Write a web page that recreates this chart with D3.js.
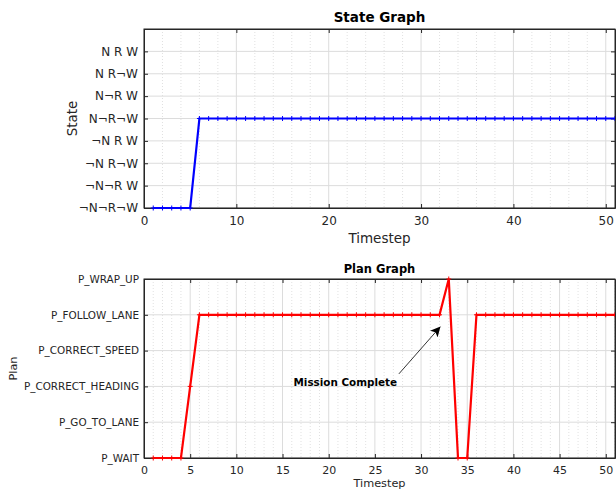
<!DOCTYPE html>
<html lang="en">
	<head>
		<meta charset="UTF-8">
		<title>State and Plan Graph</title>
		<script src="https://cdnjs.cloudflare.com/ajax/libs/d3/7.8.5/d3.min.js"></script>
		<style>
			body { margin: 0; background: #fff; }
			svg { display: block; font-family: "DejaVu Sans", sans-serif; }
		</style>
		<script>
var timesteps = [1, 2, 3, 4, 5, 6, 7, 8, 9, 10, 11, 12, 13, 14, 15, 16, 17, 18, 19, 20,
	21, 22, 23, 24, 25, 26, 27, 28, 29, 30, 31, 32, 33, 34, 35, 36, 37, 38, 39, 40,
	41, 42, 43, 44, 45, 46, 47, 48, 49, 50, 51];

// index 0 is the bottom of the axis
var stateLabels = ["¬N¬R¬W", "¬N¬R W", "¬N R¬W", "¬N R W", "N¬R¬W", "N¬R W", "N R¬W", "N R W"];
var stateValues = [0, 0, 0, 0, 0, 4, 4, 4, 4, 4, 4, 4, 4, 4, 4, 4, 4, 4, 4, 4,
	4, 4, 4, 4, 4, 4, 4, 4, 4, 4, 4, 4, 4, 4, 4, 4, 4, 4, 4, 4,
	4, 4, 4, 4, 4, 4, 4, 4, 4, 4, 4];

var planLabels = ["P_WAIT", "P_GO_TO_LANE", "P_CORRECT_HEADING", "P_CORRECT_SPEED", "P_FOLLOW_LANE", "P_WRAP_UP"];
var planValues = [0, 0, 0, 0, 2, 4, 4, 4, 4, 4, 4, 4, 4, 4, 4, 4, 4, 4, 4, 4,
	4, 4, 4, 4, 4, 4, 4, 4, 4, 4, 4, 4, 5, 0, 0, 4, 4, 4, 4, 4,
	4, 4, 4, 4, 4, 4, 4, 4, 4, 4, 4];

var stateXTicks = [0, 10, 20, 30, 40, 50];
var planXTicks = [0, 5, 10, 15, 20, 25, 30, 35, 40, 45, 50];

var annotation = { text: "Mission Complete", tx: 21.8, ty: 2.0, x0: 27.6, y0: 2.35, x1: 32.1, y1: 3.67 };

function drawPanel(svg, o) {
	var data = timesteps.map((t, i) => ({ t: t, v: o.values[i] }));

	var scX = d3.scaleLinear().domain([0, 51]).range([o.left, o.right]);
	var scY = d3.scaleLinear().domain([0, o.labels.length - (o.topPad ? 0 : 1)]).range([o.bottom, o.top]);

	var g = svg.append("g");

	// grid
	g.append("g").selectAll("line")
		.data(o.minor)
		.enter()
		.append("line")
		.attr("x1", d => scX(d)).attr("x2", d => scX(d))
		.attr("y1", o.top).attr("y2", o.bottom)
		.attr("stroke", "#d4d4d4")
		.attr("stroke-width", 0.7)
		.attr("stroke-dasharray", "1,2");

	g.append("g").selectAll("line")
		.data(o.xTicks)
		.enter()
		.append("line")
		.attr("x1", d => scX(d)).attr("x2", d => scX(d))
		.attr("y1", o.top).attr("y2", o.bottom)
		.attr("stroke", "#dcdcdc")
		.attr("stroke-width", 1);

	g.append("g").selectAll("line")
		.data(o.labels.map((l, i) => i))
		.enter()
		.append("line")
		.attr("x1", o.left).attr("x2", o.right)
		.attr("y1", d => scY(d)).attr("y2", d => scY(d))
		.attr("stroke", "#dcdcdc")
		.attr("stroke-width", 1);

	// axes (ticks inward, mirrored on top and right)
	var tickLen = 4;
	var xAxis = d3.axisBottom(scX).tickValues(o.xTicks).tickSizeInner(-tickLen).tickSizeOuter(0).tickPadding(8);
	var yAxis = d3.axisLeft(scY).tickValues(o.labels.map((l, i) => i)).tickFormat(i => o.labels[i])
		.tickSizeInner(-tickLen).tickSizeOuter(0).tickPadding(o.yPad);

	var gx = g.append("g").attr("transform", `translate(0,${o.bottom})`).call(xAxis);
	var gy = g.append("g").attr("transform", `translate(${o.left},0)`).call(yAxis);
	g.append("g").attr("transform", `translate(0,${o.top})`)
		.call(d3.axisTop(scX).tickValues(o.xTicks).tickSizeInner(-tickLen).tickSizeOuter(0).tickFormat(""));
	g.append("g").attr("transform", `translate(${o.right},0)`)
		.call(d3.axisRight(scY).tickValues(o.labels.map((l, i) => i)).tickSizeInner(-tickLen).tickSizeOuter(0).tickFormat(""));

	g.selectAll(".domain").attr("stroke", "#262626");
	g.selectAll(".tick line").attr("stroke", "#262626");
	gx.selectAll("text").attr("font-size", o.xTickFont).attr("fill", "#262626").attr("font-family", "DejaVu Sans");
	gy.selectAll("text").attr("font-size", o.yTickFont).attr("fill", "#262626").attr("font-family", "DejaVu Sans");

	// box
	g.append("rect")
		.attr("x", o.left).attr("y", o.top)
		.attr("width", o.right - o.left).attr("height", o.bottom - o.top)
		.attr("fill", "none")
		.attr("stroke", "#262626")
		.attr("stroke-width", 1);

	// line and markers
	var clipId = "clip" + o.id;
	svg.append("clipPath").attr("id", clipId)
		.append("rect")
		.attr("x", o.left).attr("y", o.top - 3)
		.attr("width", o.right - o.left).attr("height", o.bottom - o.top + 6);

	var lineMaker = d3.line()
		.x(d => scX(d.t))
		.y(d => scY(d.v));

	var series = g.append("g").attr("clip-path", `url(#${clipId})`);
	series.append("path")
		.attr("fill", "none")
		.attr("stroke", o.color)
		.attr("stroke-width", 2.2)
		.attr("stroke-linejoin", "miter")
		.attr("d", lineMaker(data));

	series.selectAll(".mk")
		.data(data)
		.enter()
		.append("path")
		.attr("class", "mk")
		.attr("transform", d => `translate(${scX(d.t)},${scY(d.v)})`)
		.attr("d", "M-2.5,0H2.5M0,-2.5V2.5")
		.attr("stroke", o.color)
		.attr("stroke-width", 1);

	// labels
	svg.append("text")
		.attr("x", (o.left + o.right) / 2)
		.attr("y", o.titleY)
		.attr("text-anchor", "middle")
		.attr("font-weight", "bold")
		.attr("font-size", o.titleFont)
		.attr("fill", "#000")
		.text(o.title);

	svg.append("text")
		.attr("x", (o.left + o.right) / 2)
		.attr("y", o.xLabelY)
		.attr("text-anchor", "middle")
		.attr("font-size", o.xLabelFont)
		.attr("fill", "#262626")
		.text("Timestep");

	svg.append("text")
		.attr("transform", `translate(${o.yLabelX},${(o.top + o.bottom) / 2}) rotate(-90)`)
		.attr("text-anchor", "middle")
		.attr("font-size", o.yLabelFont)
		.attr("fill", "#262626")
		.text(o.yLabel);

	return { scX: scX, scY: scY, g: g };
}

function makeChart() {
	var svg = d3.select("svg");

	svg.append("defs")
		.append("marker")
		.attr("id", "arrowHead")
		.attr("viewBox", "0 0 10 10")
		.attr("refX", 10).attr("refY", 5)
		.attr("markerWidth", 10).attr("markerHeight", 10)
		.attr("markerUnits", "userSpaceOnUse")
		.attr("orient", "auto")
		.append("path")
		.attr("d", "M0,0L10,5L0,10L2.5,5Z")
		.attr("fill", "#000");

	drawPanel(svg, {
		id: "State", values: stateValues, labels: stateLabels, topPad: true,
		left: 144, right: 615, top: 29, bottom: 208,
		xTicks: stateXTicks, minor: [2, 4, 6, 8, 12, 14, 16, 18, 22, 24, 26, 28, 32, 34, 36, 38, 42, 44, 46, 48],
		color: "#0000ff",
		title: "State Graph", titleY: 22, titleFont: 13.5,
		xLabelY: 243, xLabelFont: 13.5,
		yLabel: "State", yLabelX: 77, yLabelFont: 13.5,
		xTickFont: 12, yTickFont: 12, yPad: 6
	});

	var p = drawPanel(svg, {
		id: "Plan", values: planValues, labels: planLabels, topPad: false,
		left: 144, right: 615, top: 279, bottom: 458,
		xTicks: planXTicks, minor: [1, 2, 3, 4, 6, 7, 8, 9, 11, 12, 13, 14, 16, 17, 18, 19, 21, 22, 23, 24,
			26, 27, 28, 29, 31, 32, 33, 34, 36, 37, 38, 39, 41, 42, 43, 44, 46, 47, 48, 49, 51],
		color: "#ff0000",
		title: "Plan Graph", titleY: 273, titleFont: 11.5,
		xLabelY: 487, xLabelFont: 11.3,
		yLabel: "Plan", yLabelX: 17, yLabelFont: 11.3,
		xTickFont: 11, yTickFont: 10.4, yPad: 5
	});

	p.g.append("line")
		.attr("x1", p.scX(annotation.x0)).attr("y1", p.scY(annotation.y0))
		.attr("x2", p.scX(annotation.x1)).attr("y2", p.scY(annotation.y1))
		.attr("stroke", "#000")
		.attr("stroke-width", 0.8)
		.attr("marker-end", "url(#arrowHead)");

	p.g.append("text")
		.attr("x", p.scX(annotation.tx))
		.attr("y", p.scY(annotation.ty))
		.attr("text-anchor", "middle")
		.attr("font-weight", "bold")
		.attr("font-size", 10.4)
		.attr("fill", "#000")
		.text(annotation.text);
}
		</script>
	</head>
	<body onload="makeChart()">
		<svg width="616" height="492"></svg>
	</body>
</html>
